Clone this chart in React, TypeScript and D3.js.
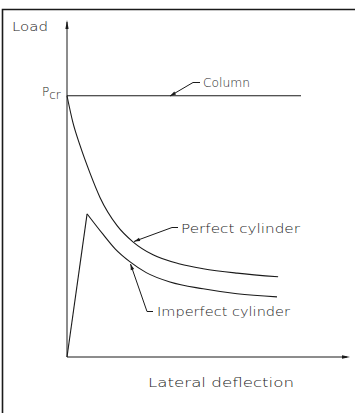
import React from "react";
import * as d3 from "d3";

// Data (x: lateral deflection, arbitrary units 0..100; y: load as fraction of Pcr)
const perfectX = [0, 2.1, 4.6, 8.1, 11.7, 17.7, 23.3, 30.4, 39.9, 48.1, 60.1, 74.6];
const perfectY = [1.0, 0.897, 0.81, 0.705, 0.61, 0.503, 0.441, 0.391, 0.356, 0.338, 0.321, 0.307];
const imperfectRiseX = [0, 7.1];
const imperfectRiseY = [0, 0.548];
const imperfectX = [7.1, 12.7, 17.0, 22.3, 28.0, 36.4, 48.1, 60.1, 74.2];
const imperfectY = [0.548, 0.47, 0.414, 0.364, 0.323, 0.287, 0.261, 0.242, 0.23];
const columnX = [0, 82.7];
const columnY = [1.0, 1.0];
const labels = ["Column", "Perfect cylinder", "Imperfect cylinder"];

const W = 355;
const H = 413;
const INK = "#1a1a1a";
const FONT = "'DejaVu Sans', sans-serif";

export default function App() {
  const x = d3.scaleLinear().domain([0, 100]).range([67, 350]);
  const y = d3.scaleLinear().domain([0, 1.29]).range([357, 20]);

  const toPts = (xs: number[], ys: number[]) => xs.map((v, i) => [v, ys[i]] as [number, number]);
  const linear = d3.line<[number, number]>().x((d) => x(d[0])).y((d) => y(d[1]));
  const smooth = d3
    .line<[number, number]>()
    .x((d) => x(d[0]))
    .y((d) => y(d[1]))
    .curve(d3.curveMonotoneX);

  const perfectPath = smooth(toPts(perfectX, perfectY)) || "";
  const risePath = linear(toPts(imperfectRiseX, imperfectRiseY)) || "";
  const imperfectPath = smooth(toPts(imperfectX, imperfectY)) || "";
  const columnPath = linear(toPts(columnX, columnY)) || "";

  // arrowhead helper: tip at (tx,ty), pointing from (fx,fy)
  const arrow = (tx: number, ty: number, fx: number, fy: number, len = 6, wid = 1.8) => {
    const dx = tx - fx;
    const dy = ty - fy;
    const L = Math.hypot(dx, dy);
    const ux = dx / L;
    const uy = dy / L;
    const bx = tx - ux * len;
    const by = ty - uy * len;
    const px = -uy * wid;
    const py = ux * wid;
    return `M${tx},${ty}L${bx + px},${by + py}L${bx - px},${by - py}Z`;
  };

  const x0 = x(0);
  const y0 = y(0);
  const xEnd = x(100);
  const yTop = y(1.29);

  return (
    <svg
      width={W}
      height={H}
      style={{ position: "absolute", left: 0, top: 0, background: "#fff" }}
    >
      {/* frame */}
      <path d={`M2.5,${H}L2.5,9.5L${W},9.5`} fill="none" stroke={INK} strokeWidth={1.6} />

      {/* axes */}
      <line x1={x0} y1={y0} x2={x0} y2={yTop + 2} stroke={INK} strokeWidth={1} />
      <path d={arrow(x0, yTop, x0, yTop + 10, 9, 1.6)} fill={INK} />
      <line x1={x0} y1={y0} x2={xEnd - 3} y2={y0} stroke={INK} strokeWidth={1} />
      <path d={arrow(xEnd, y0, xEnd - 10, y0, 8, 1.8)} fill={INK} />

      {/* curves */}
      <path d={columnPath} fill="none" stroke={INK} strokeWidth={1.1} />
      <path d={perfectPath} fill="none" stroke={INK} strokeWidth={1.1} />
      <path d={risePath} fill="none" stroke={INK} strokeWidth={1.1} />
      <path d={imperfectPath} fill="none" stroke={INK} strokeWidth={1.1} />

      {/* leaders */}
      <path d="M170,96L193,82.5L200,82.5" fill="none" stroke={INK} strokeWidth={1} />
      <path d={arrow(170, 96, 193, 82.5)} fill={INK} />
      <path d="M134,241.5L172,227.5L178,227.5" fill="none" stroke={INK} strokeWidth={1} />
      <path d={arrow(134, 241.5, 172, 227.5)} fill={INK} />
      <path d="M130.5,264L147,311.5L153,311.5" fill="none" stroke={INK} strokeWidth={1} />
      <path d={arrow(130.5, 264, 147, 311.5)} fill={INK} />

      {/* text */}
      <g fill={INK} fontFamily={FONT} fontSize={12} fontWeight={200}>
        <text x={12} y={31} textLength={36} lengthAdjust="spacingAndGlyphs">Load</text>
        <text x={42} y={96}>
          P<tspan fontSize={12} dy={3}>cr</tspan>
        </text>
        <text x={203} y={87} textLength={47} lengthAdjust="spacingAndGlyphs">{labels[0]}</text>
        <text x={181} y={232.5} textLength={119} lengthAdjust="spacingAndGlyphs">{labels[1]}</text>
        <text x={157} y={316} textLength={133} lengthAdjust="spacingAndGlyphs">{labels[2]}</text>
        <text x={148} y={387} textLength={146} lengthAdjust="spacingAndGlyphs">Lateral deflection</text>
      </g>
    </svg>
  );
}
